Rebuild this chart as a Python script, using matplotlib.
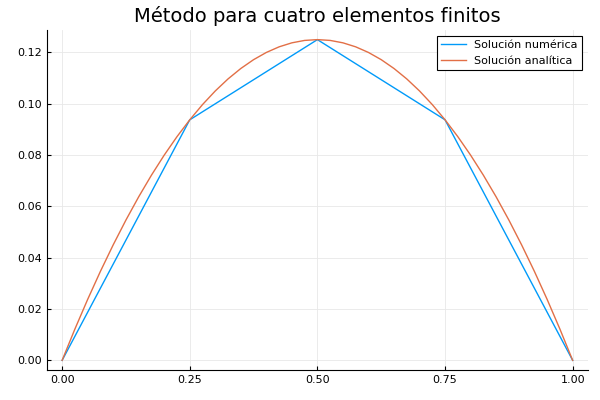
import matplotlib
matplotlib.use("Agg")
import matplotlib.pyplot as plt

# numerical solution (4 finite elements)
x_num = [0.0, 0.25, 0.5, 0.75, 1.0]
y_num = [0.0, 0.09375, 0.125, 0.09375, 0.0]

# analytic solution, read at 0.025 steps
x_ana = [0.0, 0.025, 0.05, 0.075, 0.1, 0.125, 0.15, 0.175, 0.2, 0.225, 0.25,
         0.275, 0.3, 0.325, 0.35, 0.375, 0.4, 0.425, 0.45, 0.475, 0.5,
         0.525, 0.55, 0.575, 0.6, 0.625, 0.65, 0.675, 0.7, 0.725, 0.75,
         0.775, 0.8, 0.825, 0.85, 0.875, 0.9, 0.925, 0.95, 0.975, 1.0]
y_ana = [0.0, 0.01219, 0.02375, 0.03469, 0.045, 0.05469, 0.06375, 0.07219, 0.08, 0.08719, 0.09375,
         0.09969, 0.105, 0.10969, 0.11375, 0.11719, 0.12, 0.12219, 0.12375, 0.12469, 0.125,
         0.12469, 0.12375, 0.12219, 0.12, 0.11719, 0.11375, 0.10969, 0.105, 0.09969, 0.09375,
         0.08719, 0.08, 0.07219, 0.06375, 0.05469, 0.045, 0.03469, 0.02375, 0.01219, 0.0]

xticks = [0.0, 0.25, 0.5, 0.75, 1.0]
yticks = [0.0, 0.02, 0.04, 0.06, 0.08, 0.10, 0.12]

fig = plt.figure(figsize=(6, 4), dpi=100)
ax = fig.add_axes([0.078, 0.075, 0.902, 0.85])

ax.plot(x_num, y_num, color="#009af9", lw=1, label="Solución numérica")
ax.plot(x_ana, y_ana, color="#e26f46", lw=1, label="Solución analítica")

ax.set_xlim(-0.03, 1.03)
ax.set_ylim(-0.00375, 0.12875)
ax.set_xticks(xticks)
ax.set_xticklabels([f"{v:.2f}" for v in xticks])
ax.set_yticks(yticks)
ax.set_yticklabels([f"{v:.2f}" for v in yticks])
ax.tick_params(labelsize=8, length=3, direction="in")
ax.grid(color="#e8e8e8", lw=0.6)
for s in ("top", "right"):
    ax.spines[s].set_visible(False)
ax.set_title("Método para cuatro elementos finitos", fontsize=14)
leg = ax.legend(loc="upper right", fontsize=8, fancybox=False, framealpha=1,
                edgecolor="black", handlelength=2.2, borderpad=0.4)
leg.get_frame().set_linewidth(0.8)

fig.savefig("out.png", dpi=100)
